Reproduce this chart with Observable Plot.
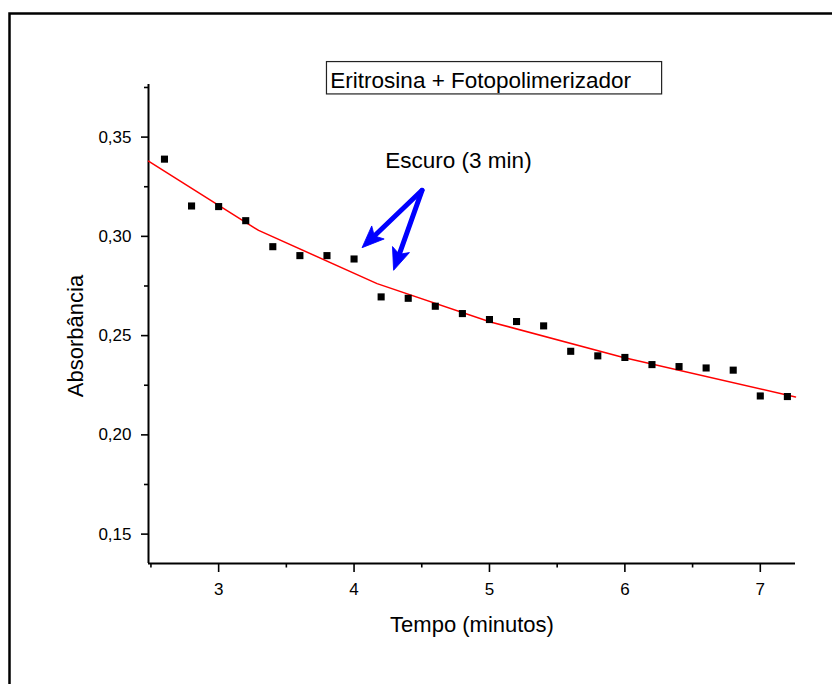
<!DOCTYPE html>
<html>
<head>
<meta charset="utf-8">
<script src="https://cdn.jsdelivr.net/npm/d3@7"></script>
<script src="https://cdn.jsdelivr.net/npm/@observablehq/plot@0.6"></script>
<style>
  body { margin: 0; background: #fff; overflow: hidden; }
  #chart svg { display: block; }
</style>
</head>
<body>
<div id="chart"></div>
<script>
// Measured data (Tempo in minutes, Absorbância)
const tempo = [2.6, 2.8, 3.0, 3.2, 3.4, 3.6, 3.8, 4.0, 4.2, 4.4, 4.6, 4.8, 5.0, 5.2, 5.4, 5.6, 5.8, 6.0, 6.2, 6.4, 6.6, 6.8, 7.0, 7.2];
const absorbancia = [0.3389, 0.3153, 0.3150, 0.3079, 0.2948, 0.2903, 0.2903, 0.2886, 0.2695, 0.2688, 0.2648, 0.2611, 0.2581, 0.2571, 0.2549, 0.2421, 0.2398, 0.2390, 0.2354, 0.2344, 0.2337, 0.2326, 0.2196, 0.2193];

// Fitted curve (red)
const fitTempo = [2.482, 3.295, 4.170, 5.007, 5.989, 7.26];
const fitAbs = [0.3379, 0.3030, 0.2762, 0.2569, 0.2390, 0.2191];

// Axes
const xDomain = [2.482, 7.26];
const yDomain = [0.1352, 0.3765];
const xTicks = [3, 4, 5, 6, 7];
const xMinorTicks = [2.5, 3.5, 4.5, 5.5, 6.5];
const yTicks = [0.15, 0.20, 0.25, 0.30, 0.35];
const yMinorTicks = [0.175, 0.225, 0.275, 0.325, 0.375];
const xTitle = "Tempo (minutos)";
const yTitle = "Absorbância";

// Annotations (data coordinates)
const legendLabel = "Eritrosina + Fotopolimerizador";
const legendBoxX = [3.80, 6.275];
const legendBoxY = [0.3715, 0.3878];
const legendTextPos = [3.825, 0.3749];
const noteLabel = "Escuro (3 min)";
const notePos = [4.231, 0.3346];
const arrowTail = [4.502, 0.3232];
const arrowTipX = [4.059, 4.292];
const arrowTipY = [0.2943, 0.2829];

const W = 832, H = 684;
const mL = 148, mR = 37, mT = 84, mB = 121;

const points = tempo.map((t, i) => ({t, a: absorbancia[i]}));
const fit = fitTempo.map((t, i) => ({t, a: fitAbs[i]}));
const fmtY = d => d.toFixed(2).replace(".", ",");
const fmtX = d => String(d);

// scales used only to orient the arrowheads along each arrow
const sx = Plot.scale({x: {domain: xDomain, range: [mL, W - mR]}});
const sy = Plot.scale({y: {domain: yDomain, range: [H - mB, mT]}});
const arrows = arrowTipX.map((x, i) => {
  const ddx = sx.apply(x) - sx.apply(arrowTail[0]);
  const ddy = sy.apply(arrowTipY[i]) - sy.apply(arrowTail[1]);
  return {x1: arrowTail[0], y1: arrowTail[1], x2: x, y2: arrowTipY[i], angle: Math.atan2(ddx, -ddy) * 180 / Math.PI};
});
// arrowhead symbol: tip at origin, pointing up
const headSymbol = {
  draw(context) {
    context.moveTo(0, 0);
    context.lineTo(-9, 22);
    context.lineTo(0, 17);
    context.lineTo(9, 22);
    context.closePath();
  }
};

const chart = Plot.plot({
  width: W,
  height: H,
  marginLeft: mL,
  marginRight: mR,
  marginTop: mT,
  marginBottom: mB,
  style: {fontFamily: "'Liberation Sans', Arial, Helvetica, sans-serif", fontSize: "17px", background: "#fff", color: "#000", overflow: "visible"},
  x: {domain: xDomain},
  y: {domain: yDomain},
  marks: [
    // outer border of the figure
    Plot.frame({stroke: "#000", strokeWidth: 2.5, insetLeft: -(mL - 9), insetTop: -(mT - 13), insetRight: -(mR + 20), insetBottom: -(mB + 20)}),
    // axis lines
    Plot.ruleX([xDomain[0]], {stroke: "#000", strokeWidth: 2}),
    Plot.ruleY([yDomain[0]], {stroke: "#000", strokeWidth: 2}),
    // ticks
    Plot.axisX(xTicks, {tickSize: 9, tickPadding: 10, strokeWidth: 1.6, fontSize: 17, tickFormat: fmtX, label: null}),
    Plot.axisX(xMinorTicks, {tickSize: 4.5, strokeWidth: 1.6, tickFormat: () => "", label: null}),
    Plot.axisY(yTicks, {tickSize: 7, tickPadding: 10, strokeWidth: 1.6, fontSize: 17, tickFormat: fmtY, label: null}),
    Plot.axisY(yMinorTicks, {tickSize: 4, strokeWidth: 1.6, tickFormat: () => "", label: null}),
    // axis titles
    Plot.text([xTitle], {frameAnchor: "bottom", dy: 68, textAnchor: "middle", lineAnchor: "bottom", fontSize: 22, fill: "#000"}),
    Plot.text([yTitle], {frameAnchor: "left", rotate: -90, dx: -66, dy: 12, textAnchor: "middle", lineAnchor: "bottom", fontSize: 22, fill: "#000"}),
    // fitted curve
    Plot.line(fit, {x: "t", y: "a", stroke: "#ff0000", strokeWidth: 1.5}),
    // data points
    Plot.dot(points, {x: "t", y: "a", symbol: "square", r: 4, fill: "#000", stroke: null}),
    // legend box
    Plot.rect([0], {x1: legendBoxX[0], x2: legendBoxX[1], y1: legendBoxY[0], y2: legendBoxY[1], fill: "#fff", stroke: "#222", strokeWidth: 1.2}),
    Plot.text([legendLabel], {x: legendTextPos[0], y: legendTextPos[1], textAnchor: "start", lineAnchor: "bottom", fontSize: 22.5, fill: "#000"}),
    // annotation
    Plot.text([noteLabel], {x: notePos[0], y: notePos[1], textAnchor: "start", lineAnchor: "bottom", fontSize: 22.5, fill: "#000"}),
    Plot.arrow(arrows, {x1: "x1", y1: "y1", x2: "x2", y2: "y2", stroke: "#0000ff", strokeWidth: 5, headLength: 0, insetEnd: 13, strokeLinecap: "round"}),
    Plot.dot(arrows, {x: "x2", y: "y2", rotate: "angle", symbol: headSymbol, fill: "#0000ff", stroke: "#0000ff", strokeWidth: 0.8, strokeLinejoin: "miter"})
  ]
});
document.getElementById("chart").appendChild(chart);
</script>
</body>
</html>
